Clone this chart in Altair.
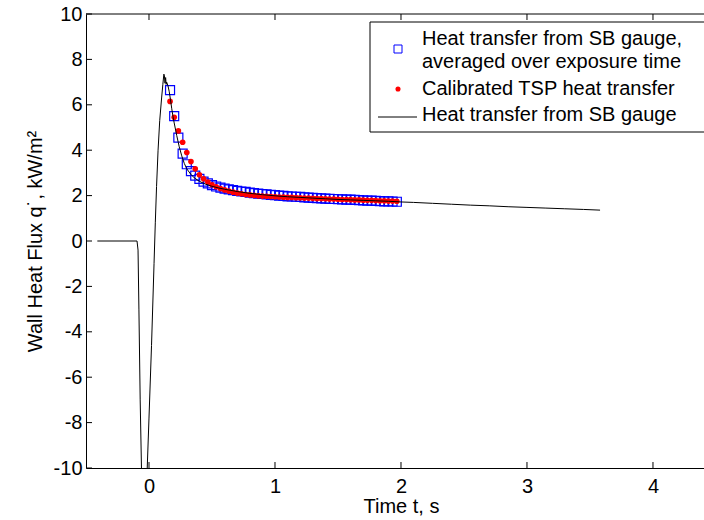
import altair as alt
import pandas as pd

# ---------------- data ----------------
marker_t = [0.167, 0.200, 0.233, 0.267, 0.300, 0.333, 0.367, 0.400, 0.433, 0.467,
            0.500, 0.533, 0.567, 0.600, 0.633, 0.667, 0.700, 0.733, 0.767, 0.800,
            0.833, 0.867, 0.900, 0.933, 0.967, 1.000, 1.033, 1.067, 1.100, 1.133,
            1.167, 1.200, 1.233, 1.267, 1.300, 1.333, 1.367, 1.400, 1.433, 1.467,
            1.500, 1.533, 1.567, 1.600, 1.633, 1.667, 1.700, 1.733, 1.767, 1.800,
            1.833, 1.867, 1.900, 1.933, 1.967]

tsp_q = [6.15, 5.45, 4.85, 4.35, 3.90, 3.50, 3.18, 2.92, 2.74, 2.60,
         2.48, 2.39, 2.31, 2.25, 2.20, 2.15, 2.11, 2.08, 2.05, 2.03,
         2.01, 1.99, 1.98, 1.97, 1.96, 1.95, 1.94, 1.93, 1.92, 1.92,
         1.91, 1.90, 1.89, 1.89, 1.88, 1.87, 1.87, 1.86, 1.85, 1.85,
         1.84, 1.83, 1.83, 1.82, 1.81, 1.81, 1.80, 1.79, 1.79, 1.78,
         1.77, 1.77, 1.76, 1.76, 1.75]

avg_q = [6.65, 5.50, 4.55, 3.85, 3.38, 3.08, 2.88, 2.74, 2.62, 2.54,
         2.46, 2.40, 2.35, 2.31, 2.27, 2.24, 2.21, 2.18, 2.16, 2.13,
         2.11, 2.09, 2.07, 2.05, 2.03, 2.02, 2.00, 1.99, 1.97, 1.96,
         1.95, 1.94, 1.92, 1.91, 1.90, 1.89, 1.88, 1.87, 1.86, 1.85,
         1.84, 1.83, 1.82, 1.82, 1.81, 1.80, 1.79, 1.78, 1.78, 1.77,
         1.76, 1.75, 1.75, 1.74, 1.73]

gauge_t = [-0.41, -0.095, -0.087, -0.080, -0.070, -0.058, -0.045, -0.030, -0.018, -0.014,
           0.000, 0.020, 0.040, 0.050, 0.060, 0.072, 0.085, 0.100, 0.110, 0.118,
           0.122, 0.127, 0.132, 0.136, 0.140, 0.150, 0.160, 0.170, 0.180, 0.190,
           0.200, 0.220, 0.240, 0.260, 0.280, 0.300, 0.330, 0.360, 0.400, 0.450,
           0.500, 0.550, 0.600, 0.700, 0.800, 0.900, 1.000, 1.100, 1.200, 1.300,
           1.400, 1.500, 1.600, 1.700, 1.800, 1.900, 2.000, 2.100, 2.250, 2.400,
           2.550, 2.700, 2.850, 3.000, 3.150, 3.300, 3.450, 3.580]

gauge_q = [0.0, 0.0, -0.4, -3.0, -7.0, -10.5, -13.0, -13.0, -11.0, -10.0,
           -7.8, -4.6, -1.0, 0.8, 2.4, 4.0, 5.3, 6.3, 6.9, 7.35,
           7.3, 6.95, 7.2, 6.9, 7.0, 6.85, 6.6, 6.25, 5.85, 5.5,
           5.2, 4.65, 4.15, 3.75, 3.42, 3.18, 2.95, 2.78, 2.63, 2.50,
           2.41, 2.34, 2.28, 2.18, 2.10, 2.04, 1.99, 1.95, 1.92, 1.89,
           1.86, 1.83, 1.81, 1.79, 1.77, 1.75, 1.72, 1.70, 1.66, 1.62,
           1.58, 1.55, 1.51, 1.48, 1.45, 1.42, 1.39, 1.36]

x_ticks = [0, 1, 2, 3, 4]
y_ticks = [-10, -8, -6, -4, -2, 0, 2, 4, 6, 8, 10]

legend_labels = ["Heat transfer from SB gauge,",
                 "averaged over exposure time",
                 "Calibrated TSP heat transfer",
                 "Heat transfer from SB gauge"]

x_title = "Time t, s"
y_title = "Wall Heat Flux q\u02d9, kW/m\u00b2"

# ---------------- frames ----------------
markers = pd.DataFrame({"t": marker_t, "tsp": tsp_q, "avg": avg_q})
gauge = pd.DataFrame({"t": gauge_t, "q": gauge_q})
xt = pd.DataFrame({"v": x_ticks})
yt = pd.DataFrame({"v": y_ticks})

W, H = 618, 454
FONT = "Liberation Sans"
FS = 20

xscale = alt.Scale(domain=[-0.5, 4.405], nice=False, zero=False)
yscale = alt.Scale(domain=[-10, 10], nice=False, zero=False)

common_axis = dict(ticks=False, grid=False, labelFontSize=FS, titleFontSize=FS,
                   labelFont=FONT, titleFont=FONT, labelColor="black",
                   titleColor="black", titleFontWeight="normal",
                   domainColor="black", domainWidth=1,
                   labelExpr="'' + datum.value")

xaxis = alt.Axis(values=x_ticks, title=x_title, labelPadding=8, titlePadding=0,
                 titleX=315, titleAlign="center", titleAnchor="start", **common_axis)
yaxis = alt.Axis(values=y_ticks, title=y_title, labelPadding=4, titlePadding=8,
                 **common_axis)

squares = alt.Chart(markers).mark_point(
    shape="square", filled=False, color="#0000ff", size=81, strokeWidth=1.2,
    opacity=1, clip=True
).encode(
    x=alt.X("t:Q", scale=xscale, axis=xaxis),
    y=alt.Y("avg:Q", scale=yscale, axis=yaxis),
)

dots = alt.Chart(markers).mark_point(
    shape="circle", filled=True, color="#ff0000", size=32, opacity=1, clip=True
).encode(
    x=alt.X("t:Q", scale=xscale),
    y=alt.Y("tsp:Q", scale=yscale),
)

line = alt.Chart(gauge).mark_line(color="black", strokeWidth=1, clip=True).encode(
    x=alt.X("t:Q", scale=xscale),
    y=alt.Y("q:Q", scale=yscale),
    order="t:Q",
)

# inward tick marks
xticks_bottom = alt.Chart(xt).mark_rule(color="black", strokeWidth=1).encode(
    x=alt.X("v:Q", scale=xscale), y=alt.value(H), y2=alt.value(H - 6))
xticks_top = alt.Chart(xt).mark_rule(color="black", strokeWidth=1).encode(
    x=alt.X("v:Q", scale=xscale), y=alt.value(0), y2=alt.value(6))
yticks_left = alt.Chart(yt).mark_rule(color="black", strokeWidth=1).encode(
    y=alt.Y("v:Q", scale=yscale), x=alt.value(0), x2=alt.value(6))

one = alt.Data(values=[{"a": 1}])
top_border = alt.Chart(one).mark_rule(color="black", strokeWidth=1).encode(
    x=alt.value(0), x2=alt.value(660), y=alt.value(0))

# legend
box = alt.Chart(one).mark_rect(fill="white", stroke="black", strokeWidth=1).encode(
    x=alt.value(284), x2=alt.value(660), y=alt.value(8), y2=alt.value(118))
leg_sq = alt.Chart(one).mark_point(shape="square", filled=False, color="#0000ff",
                                   size=64, strokeWidth=1, opacity=1).encode(
    x=alt.value(312), y=alt.value(35))
leg_dot = alt.Chart(one).mark_point(shape="circle", filled=True, color="#ff0000",
                                    size=26, opacity=1).encode(
    x=alt.value(312), y=alt.value(75))
leg_line = alt.Chart(one).mark_rule(color="black", strokeWidth=1).encode(
    x=alt.value(292), x2=alt.value(331), y=alt.value(103))

text_y = [31, 54, 81, 107]
texts = [
    alt.Chart(one).mark_text(align="left", baseline="alphabetic", fontSize=FS,
                             font=FONT, color="black").encode(
        x=alt.value(336), y=alt.value(ty), text=alt.value(lbl))
    for lbl, ty in zip(legend_labels, text_y)
]

chart = alt.layer(
    squares, dots, line, xticks_bottom, xticks_top, yticks_left, top_border,
    box, leg_sq, leg_dot, leg_line, *texts
).properties(
    width=W, height=H,
    autosize=alt.AutoSizeParams(type="none"),
    padding={"left": 86, "top": 14, "right": 0, "bottom": 52},
    background="white",
).configure_view(stroke=None)

chart.save("out.html", embed_options={"renderer": "svg", "actions": False})
